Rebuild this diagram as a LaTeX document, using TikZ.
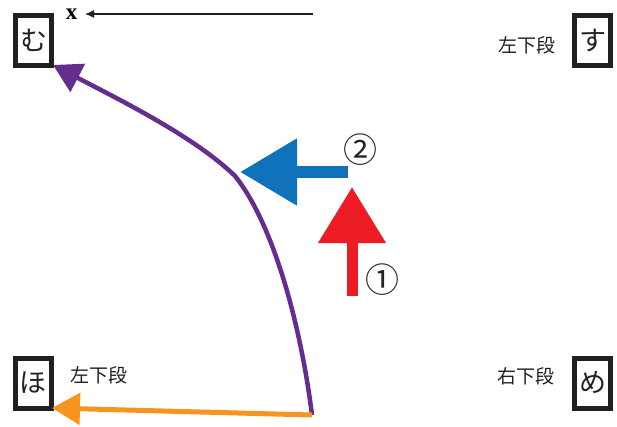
\documentclass[tikz,border=0pt]{standalone}
\usepackage{fontspec}
\setmainfont{Liberation Serif}
\newfontfamily\jpfont{Noto Sans CJK JP}
\usetikzlibrary{arrows.meta}
\definecolor{kpurple}{HTML}{662D91}
\definecolor{korange}{HTML}{F7931E}
\definecolor{kblue}{HTML}{0F72BA}
\definecolor{kred}{HTML}{ED1C24}
\definecolor{kblack}{HTML}{231F20}
\tikzset{
  kanabox/.style={draw=kblack, line width=5pt, minimum width=36pt, minimum height=50pt, inner sep=0pt, font=\jpfont\fontsize{27}{27}\selectfont, text=kblack},
  seatlabel/.style={font=\jpfont\fontsize{19}{19}\selectfont, text=kblack, inner sep=0pt},
  circnum/.style={font=\jpfont\fontsize{34}{34}\selectfont, text=kblack, inner sep=0pt},
}
\begin{document}
\begin{tikzpicture}[x=1pt,y=-1pt]
\useasboundingbox (0,0) rectangle (617,426);
% boxes
\node[kanabox] (mu) at (33.5,40) {む};
\node[kanabox] (su) at (592.5,40.5) {す};
\node[kanabox] (ho) at (33,383) {ほ};
\node[kanabox] (me) at (592.5,383) {め};
% labels
\node[seatlabel] (lsu) at (527,45) {左下段};
\node[seatlabel] (lho) at (99,375) {左下段};
\node[seatlabel] (lme) at (526,376) {右下段};
% x axis
\node[font=\bfseries\fontsize{23}{23}\selectfont, inner sep=0pt] (xl) at (71.5,14) {x};
\coordinate (xs) at (313,14);
\coordinate (xe) at (85,14);
\draw[kblack, line width=1.2pt, -{Latex[length=9pt,width=8pt]}] (xs) -- (xe);
% purple curve
\coordinate (start) at (312,415);
\coordinate (bend) at (235,176);
\coordinate (ptip) at (53,65);
\draw[kpurple, line width=4.5pt, -{Triangle[length=28pt,width=31pt]}] (start) .. controls (300,320) and (272,222) .. (bend) .. controls (195,137) and (120,100) .. (ptip);
% orange arrow
\coordinate (otip) at (52,408);
\draw[korange, line width=5pt, -{Triangle[length=28pt,width=31pt]}] (start) -- (otip);
% blue arrow
\coordinate (bs) at (348,172);
\coordinate (bt) at (240,172);
\draw[kblue, line width=12pt, -{Triangle[length=57pt,width=64pt]}] (bs) -- (bt);
% red arrow
\coordinate (rs) at (352,296);
\coordinate (rt) at (352,187);
\draw[kred, line width=11pt, -{Triangle[length=56pt,width=65pt]}] (rs) -- (rt);
% numbers
\node[circnum] (n1) at (382,280) {①};
\node[circnum] (n2) at (360,150) {②};
\end{tikzpicture}
\end{document}
